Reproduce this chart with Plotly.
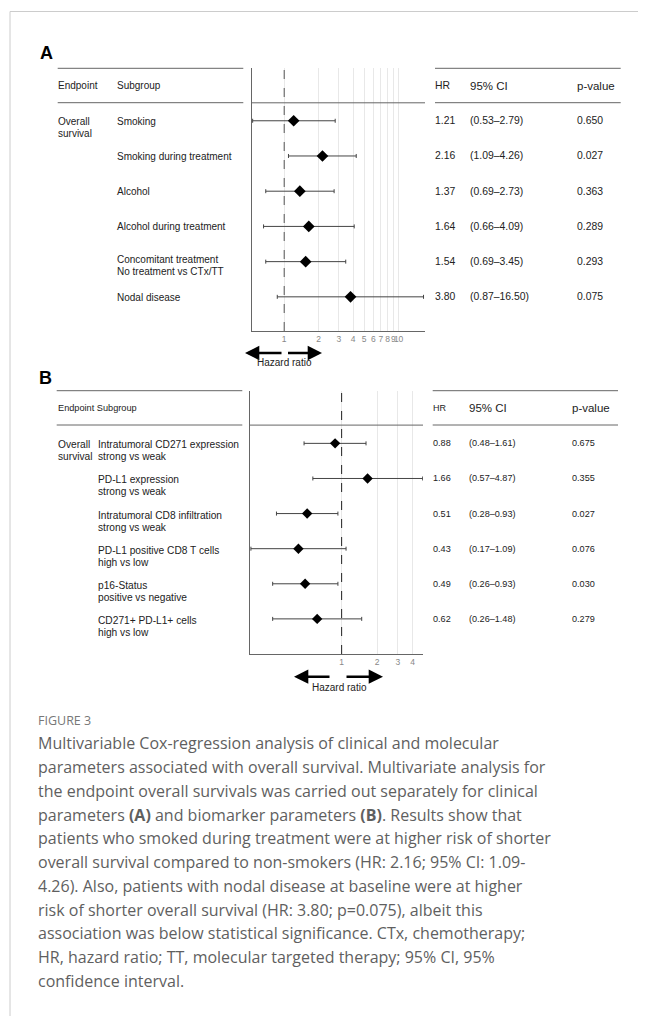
import math
import plotly.graph_objects as go

# the page body has an 8px margin; the figure is sized to fit the window
OFF = 8
W, H = 646 - OFF, 1016 - OFF
PAD = 2  # annotation inner padding compensation


def px(x):
    return (x - OFF) / W


def py(y):
    return 1 - (y - OFF) / H


# ---------------- data ----------------
a_endpoint = ["Overall", "survival"]
a_subgroups = [["Smoking"], ["Smoking during treatment"], ["Alcohol"],
               ["Alcohol during treatment"],
               ["Concomitant treatment", "No treatment vs CTx/TT"],
               ["Nodal disease"]]
a_hr = [1.21, 2.16, 1.37, 1.64, 1.54, 3.80]
a_lo = [0.53, 1.09, 0.69, 0.66, 0.69, 0.87]
a_hi = [2.79, 4.26, 2.73, 4.09, 3.45, 16.50]
a_p = ["0.650", "0.027", "0.363", "0.289", "0.293", "0.075"]
a_ticks = [1, 2, 3, 4, 5, 6, 7, 8, 9, 10]

b_endpoint = ["Overall", "survival"]
b_subgroups = [["Intratumoral CD271 expression", "strong vs weak"],
               ["PD-L1 expression", "strong vs weak"],
               ["Intratumoral CD8 infiltration", "strong vs weak"],
               ["PD-L1 positive CD8 T cells", "high vs low"],
               ["p16-Status", "positive vs negative"],
               ["CD271+ PD-L1+ cells", "high vs low"]]
b_hr = [0.88, 1.66, 0.51, 0.43, 0.49, 0.62]
b_lo = [0.48, 0.57, 0.28, 0.17, 0.26, 0.26]
b_hi = [1.61, 4.87, 0.93, 1.09, 0.93, 1.48]
b_p = ["0.675", "0.355", "0.027", "0.076", "0.030", "0.279"]
b_ticks = [1, 2, 3, 4]

caption_title = "FIGURE 3"
caption_lines = [
    "Multivariable Cox-regression analysis of clinical and molecular",
    "parameters associated with overall survival. Multivariate analysis for",
    "the endpoint overall survivals was carried out separately for clinical",
    "parameters <b>(A)</b> and biomarker parameters <b>(B)</b>. Results show that",
    "patients who smoked during treatment were at higher risk of shorter",
    "overall survival compared to non-smokers (HR: 2.16; 95% CI: 1.09-",
    "4.26). Also, patients with nodal disease at baseline were at higher",
    "risk of shorter overall survival (HR: 3.80; p=0.075), albeit this",
    "association was below statistical significance. CTx, chemotherapy;",
    "HR, hazard ratio; TT, molecular targeted therapy; 95% CI, 95%",
    "confidence interval.",
]

TXT = "#222222"
LINE = "#666666"
FONT = "Liberation Sans, Arial, sans-serif"

fig = go.Figure()
shapes = []
ann = []


def hline(x0, x1, y, color=LINE, width=1):
    shapes.append(dict(type="line", xref="paper", yref="paper",
                       x0=px(x0), x1=px(x1), y0=py(y), y1=py(y),
                       line=dict(color=color, width=width)))


def text(x, y, s, size, yref="paper", yshift=0, color=TXT, xanchor="left",
         family=FONT):
    xx = x - PAD if xanchor == "left" else x
    ann.append(dict(x=px(xx), y=(py(y) if yref == "paper" else y),
                    xref="paper", yref=yref, text=s, showarrow=False,
                    xanchor=xanchor, yanchor="middle", yshift=yshift,
                    font=dict(size=size, color=color, family=family)))


def panel(hr, lo, hi, pvals, subgroups, endpoint, xa, ya, cfg):
    n = len(hr)
    rows = list(range(n))
    fig.add_trace(go.Scatter(
        x=hr, y=rows, mode="markers", xaxis=xa, yaxis=ya,
        marker=dict(symbol="diamond", color="black", size=cfg["msize"]),
        error_x=dict(type="data", symmetric=False,
                     array=[h - m for h, m in zip(hi, hr)],
                     arrayminus=[m - l for m, l in zip(hr, lo)],
                     color="#444444", thickness=1, width=2),
        hoverinfo="skip", showlegend=False))
    yref = "y" if ya == "y" else "y2"
    xref = "x" if xa == "x" else "x2"
    # dashed reference line at HR = 1
    shapes.append(dict(type="line", xref=xref, yref=yref + " domain",
                       x0=1, x1=1, y0=0, y1=1,
                       line=dict(color=cfg["dash"], width=1, dash="dash")))
    # header separator inside plot
    shapes.append(dict(type="line", xref=xref + " domain", yref=yref,
                       x0=0, x1=1, y0=cfg["hsep"], y1=cfg["hsep"],
                       line=dict(color=LINE, width=1)))
    # table lines
    for yy in (cfg["ytop"], cfg["yhdr"]):
        hline(cfg["lt"][0], cfg["lt"][1], yy)
        hline(cfg["rt"][0], cfg["rt"][1], yy)
    # headers
    if cfg["hdr_join"]:
        text(cfg["xend"], -1, "Endpoint Subgroup", cfg["hsize_small"], yref=yref)
    else:
        text(cfg["xend"], -1, "Endpoint", cfg["hsize_small"], yref=yref)
        text(cfg["xsub"], -1, "Subgroup", cfg["hsize_small"], yref=yref)
    text(cfg["xhr"], -1, "HR", cfg["hrsize"], yref=yref)
    text(cfg["xci"], -1, "95% CI", cfg["hsize"], yref=yref)
    text(cfg["xp"], -1, "p-value", cfg["hsize"], yref=yref)
    # endpoint
    for k, line in enumerate(endpoint):
        text(cfg["xend"], 0, line, cfg["lsize"], yref=yref,
             yshift=-cfg["ep_off"][k])
    # rows
    for i in rows:
        lines = subgroups[i]
        offs = cfg["off1"] if len(lines) == 1 else cfg["off2"]
        for k, line in enumerate(lines):
            text(cfg["xsub"], i, line, cfg["lsize"], yref=yref, yshift=-offs[k])
        text(cfg["xhr"], i, f"{hr[i]:.2f}", cfg["vsize"], yref=yref)
        text(cfg["xci"], i, f"({lo[i]:.2f}\u2013{hi[i]:.2f})", cfg["vsize"], yref=yref)
        text(cfg["xp"], i, pvals[i], cfg["vsize"], yref=yref)


cfgA = dict(msize=9, dash="#555555", hsep=-0.51, ytop=68.3, yhdr=102.7,
            lt=(57.7, 243.3), rt=(435, 620.7), hdr_join=False,
            xend=58, xsub=117, xhr=435, xci=470, xp=577,
            hsize_small=10, hrsize=10.4, hsize=11.5, lsize=10, vsize=10.4,
            ep_off=[0.5, 13], off1=[0.3], off2=[-2.4, 10])
cfgB = dict(msize=8, dash="#222222", hsep=-0.52, ytop=390.7, yhdr=425,
            lt=(56.7, 242.3), rt=(432.7, 618), hdr_join=True,
            xend=57.5, xsub=98.3, xhr=433, xci=469.3, xp=572,
            hsize_small=9.2, hrsize=9, hsize=11.5, lsize=10.2, vsize=9.1,
            ep_off=[1.5, 13.5], off1=[1.5], off2=[1.5, 13.5])

panel(a_hr, a_lo, a_hi, a_p, a_subgroups, a_endpoint, "x", "y", cfgA)
panel(b_hr, b_lo, b_hi, b_p, b_subgroups, b_endpoint, "x2", "y2", cfgB)

# panel letters
text(40, 53.5, "<b>A</b>", 18, color="black")
text(39, 378, "<b>B</b>", 18, color="black")


# hazard ratio arrows
def arrow(tip, tail, y):
    ann.append(dict(x=px(tip), y=py(y), xref="paper", yref="paper",
                    ax=tail - tip, ay=0, text="", showarrow=True,
                    arrowhead=2, arrowsize=1.1, arrowwidth=2.6,
                    arrowcolor="black", standoff=0, startstandoff=0))


arrow(245, 283, 353)
arrow(322, 286.5, 353)
text(284, 362.5, "Hazard ratio", 10, xanchor="center")
arrow(294, 331, 676.7)
arrow(383, 345, 676.7)
text(339.3, 687, "Hazard ratio", 10, xanchor="center")

# caption
CAP_FONT = "Open Sans, sans-serif"
text(38, 720, caption_title, 12.5, color="#777777", family=CAP_FONT)
for i, line in enumerate(caption_lines):
    text(38, 743.3 + i * 23.77, line, 16, color="#5f5f5f", family=CAP_FONT)

# page border
shapes.append(dict(type="line", xref="paper", yref="paper", x0=px(10), x1=1,
                   y0=py(11.5), y1=py(11.5), line=dict(color="#cccccc", width=1)))
shapes.append(dict(type="line", xref="paper", yref="paper", x0=px(10), x1=px(10),
                   y0=py(11.5), y1=0, line=dict(color="#cccccc", width=1)))

axis_common = dict(type="log", showline=True, linecolor=LINE, linewidth=1,
                   showgrid=True, gridcolor="#e8e8e8", gridwidth=1,
                   zeroline=False, ticks="", fixedrange=True, tickangle=0,
                   tickfont=dict(size=8.5, color="#888888", family=FONT))
yaxis_common = dict(showline=True, linecolor=LINE, linewidth=1, showgrid=False,
                    zeroline=False, showticklabels=False, ticks="",
                    fixedrange=True)

fig.update_layout(
    width=W, height=H, margin=dict(l=0, r=0, t=0, b=0),
    paper_bgcolor="white", plot_bgcolor="white", showlegend=False,
    xaxis=dict(axis_common, domain=[px(251.7), px(425)], anchor="y",
               range=[math.log10(0.52), math.log10(17.0)],
               tickvals=a_ticks, ticktext=[str(t) for t in a_ticks]),
    yaxis=dict(yaxis_common, domain=[py(331), py(68.3)], anchor="x",
               range=[5.97, -1.49]),
    xaxis2=dict(axis_common, domain=[px(250), px(423)], anchor="y2",
                range=[math.log10(0.167), math.log10(4.9)],
                tickvals=b_ticks, ticktext=[str(t) for t in b_ticks]),
    yaxis2=dict(yaxis_common, domain=[py(654), py(390.7)], anchor="x2",
                range=[6.0, -1.5]),
    shapes=shapes, annotations=ann,
    font=dict(family=FONT),
)

fig.write_html("out.html")
